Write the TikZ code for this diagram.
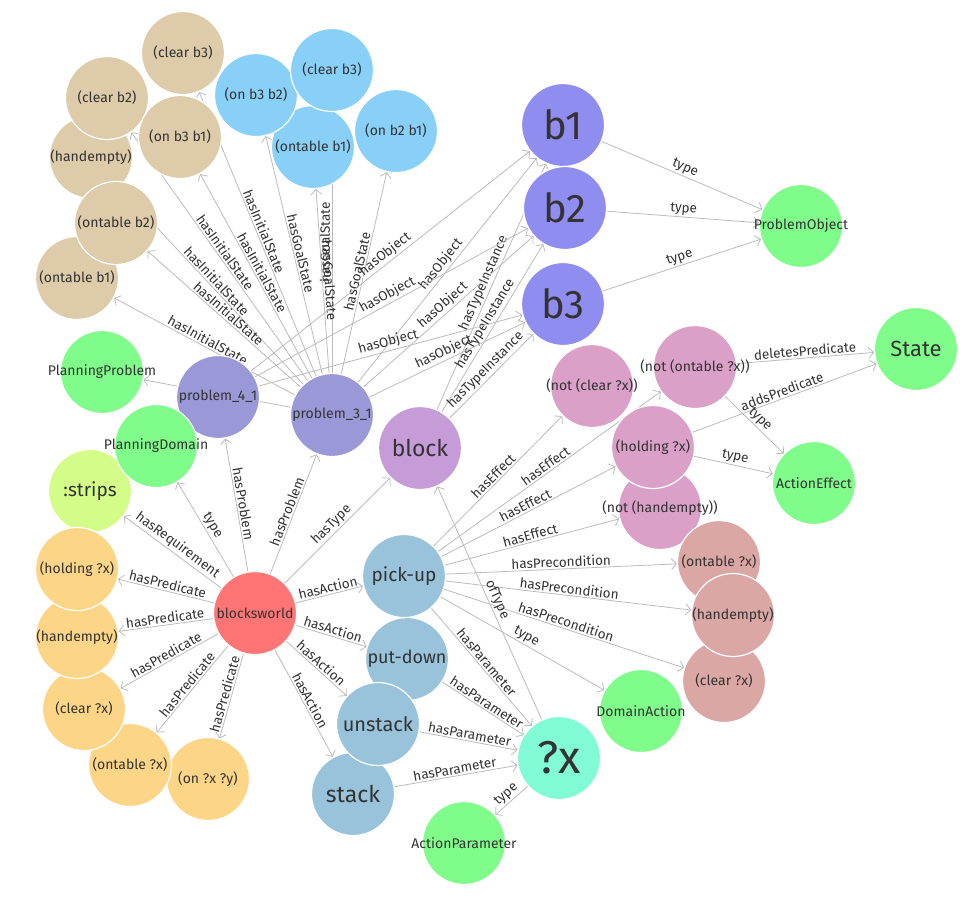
\documentclass[tikz,border=0pt]{standalone}
\usepackage{fontspec}
\setmainfont{Fira Sans}
\usetikzlibrary{arrows.meta}
\pgfdeclarelayer{background}
\pgfsetlayers{background,main}
\definecolor{txt}{HTML}{333333}
\definecolor{edgec}{HTML}{BBBBBB}
\definecolor{tanc}{HTML}{DDCBAA}
\definecolor{goalc}{HTML}{88D0F8}
\definecolor{bc}{HTML}{908DF0}
\definecolor{probc}{HTML}{9A98D6}
\definecolor{greenc}{HTML}{7FFC8A}
\definecolor{blockc}{HTML}{C59BD8}
\definecolor{effc}{HTML}{DAA0C7}
\definecolor{prec}{HTML}{DBA7A5}
\definecolor{qxc}{HTML}{80FBD5}
\definecolor{actc}{HTML}{98C3DA}
\definecolor{bwc}{HTML}{FF7575}
\definecolor{stripc}{HTML}{D4FC88}
\definecolor{predc}{HTML}{FDD587}
\newcommand\zb[1]{\makebox[0pt]{#1}}
\tikzset{
  nd/.style={circle, minimum size=83pt, inner sep=0pt, draw=white, line width=1.2pt, text=txt, font=\fontsize{14}{16}\selectfont},
  ed/.style={draw=edgec, line width=0.8pt, -{Straight Barb[length=5pt,width=11pt]}},
  lb/.style={midway, sloped, above, font=\fontsize{13.5}{15}\selectfont, inner sep=1.5pt, text=txt},
  fs/.style={font=\fontsize{#1}{#1}\selectfont}
}
\begin{document}
\begin{tikzpicture}[x=1pt,y=-1pt]
\useasboundingbox (0,0) rectangle (965,898);
% initial state
\node[nd, fill=tanc] (is6) at (77,278) {\zb{(ontable b1)}};
\node[nd, fill=tanc] (is3) at (91,157) {\zb{(handempty)}};
\node[nd, fill=tanc] (is2) at (107,98) {\zb{(clear b2)}};
\node[nd, fill=tanc] (is1) at (183,53) {\zb{(clear b3)}};
\node[nd, fill=tanc] (is4) at (180,137) {\zb{(on b3 b1)}};
\node[nd, fill=tanc] (is5) at (116,223) {\zb{(ontable b2)}};
% goal state
\node[nd, fill=goalc] (g3) at (313,147) {\zb{(ontable b1)}};
\node[nd, fill=goalc] (g1) at (256,95) {\zb{(on b3 b2)}};
\node[nd, fill=goalc] (g2) at (332,70) {\zb{(clear b3)}};
\node[nd, fill=goalc] (g4) at (396,131) {\zb{(on b2 b1)}};
% objects
\node[nd, fill=bc, fs=40] (b1) at (563,125) {\zb{b1}};
\node[nd, fill=bc, fs=40] (b2) at (565,208) {\zb{b2}};
\node[nd, fill=bc, fs=40] (b3) at (563,304) {\zb{b3}};
\node[nd, fill=greenc] (po) at (801,226) {\zb{ProblemObject}};
\node[nd, fill=greenc, fs=22] (st) at (916,349) {\zb{State}};
\node[nd, fill=greenc] (ae) at (814,483) {\zb{ActionEffect}};
% effects
\node[nd, fill=effc] (e1) at (592,386) {\zb{(not (clear ?x))}};
\node[nd, fill=effc] (e2) at (695,367) {\zb{(not (ontable ?x))}};
\node[nd, fill=effc] (e4) at (660,508) {\zb{(not (handempty))}};
\node[nd, fill=effc] (e3) at (653,447) {\zb{(holding ?x)}};
% preconditions
\node[nd, fill=prec] (c1) at (719,562) {\zb{(ontable ?x)}};
\node[nd, fill=prec] (c3) at (724,681) {\zb{(clear ?x)}};
\node[nd, fill=prec] (c2) at (733,615) {\zb{(handempty)}};
\node[nd, fill=greenc] (da) at (641,711) {\zb{DomainAction}};
\node[nd, fill=qxc, fs=46] (qx) at (559,758) {\zb{?x}};
\node[nd, fill=greenc] (ap) at (464,843) {\zb{ActionParameter}};
% actions
\node[nd, fill=actc, fs=23] (sk) at (353,794) {\zb{stack}};
\node[nd, fill=actc, fs=18] (pd) at (407,659) {\zb{put-down}};
\node[nd, fill=actc, fs=19] (pu) at (404,576) {\zb{pick-up}};
\node[nd, fill=actc, fs=20] (us) at (378,724) {\zb{unstack}};
\node[nd, fill=blockc, fs=23] (blk) at (420,448) {\zb{block}};
% problems
\node[nd, fill=greenc] (pp) at (102,372) {\zb{PlanningProblem}};
\node[nd, fill=probc] (p4) at (218,397) {\zb{problem\_4\_1}};
\node[nd, fill=probc] (p3) at (332,415) {\zb{problem\_3\_1}};
\node[nd, fill=stripc, fs=19] (sr) at (90,491) {\zb{:strips}};
\node[nd, fill=greenc] (pdm) at (156,446) {\zb{PlanningDomain}};
% predicates
\node[nd, fill=predc] (r5) at (208,779) {\zb{(on ?x ?y)}};
\node[nd, fill=predc] (r4) at (130,765) {\zb{(ontable ?x)}};
\node[nd, fill=predc] (r3) at (84,709) {\zb{(clear ?x)}};
\node[nd, fill=predc] (r2) at (77,637) {\zb{(handempty)}};
\node[nd, fill=predc] (r1) at (77,569) {\zb{(holding ?x)}};
\node[nd, fill=bwc] (bw) at (255,613) {\zb{blocksworld}};

\begin{pgfonlayer}{background}
\foreach \t in {is1,is2,is3,is4,is5,is6}
  \draw[ed] (p3) -- node[lb]{hasInitialState} (\t);
\foreach \t in {g1,g2,g3,g4}
  \draw[ed] (p3) -- node[lb]{hasGoalState} (\t);
\foreach \t in {b1,b2,b3}{
  \draw[ed] (p3) -- node[lb]{hasObject} (\t);
  \draw[ed] (p4) -- node[lb]{hasObject} (\t);
  \draw[ed] (blk) -- node[lb]{hasTypeInstance} (\t);
  \draw[ed] (\t) -- node[lb]{type} (po);
}
\draw[ed] (p3) -- (pp);
\draw[ed] (bw) -- node[lb]{type} (pdm);
\draw[ed] (bw) -- node[lb]{hasRequirement} (sr);
\foreach \t in {r1,r2,r3,r4,r5}
  \draw[ed] (bw) -- node[lb]{hasPredicate} (\t);
\draw[ed] (bw) -- node[lb]{hasProblem} (p4);
\draw[ed] (bw) -- node[lb]{hasProblem} (p3);
\draw[ed] (bw) -- node[lb]{hasType} (blk);
\foreach \t in {pu,pd,us,sk}{
  \draw[ed] (bw) -- node[lb]{hasAction} (\t);
  \draw[ed] (\t) -- node[lb]{hasParameter} (qx);
}
\foreach \t in {e1,e2,e3,e4}
  \draw[ed] (pu) -- node[lb]{hasEffect} (\t);
\foreach \t in {c1,c2,c3}
  \draw[ed] (pu) -- node[lb]{hasPrecondition} (\t);
\draw[ed] (pu) -- node[lb]{type} (da);
\draw[ed] (qx) -- node[lb]{ofType} (blk);
\draw[ed] (qx) -- node[lb]{type} (ap);
\draw[ed] (e2) -- node[lb]{deletesPredicate} (st);
\draw[ed] (e3) -- node[lb]{addsPredicate} (st);
\draw[ed] (e2) -- node[lb]{type} (ae);
\draw[ed] (e3) -- node[lb]{type} (ae);
\end{pgfonlayer}
\end{tikzpicture}
\end{document}
